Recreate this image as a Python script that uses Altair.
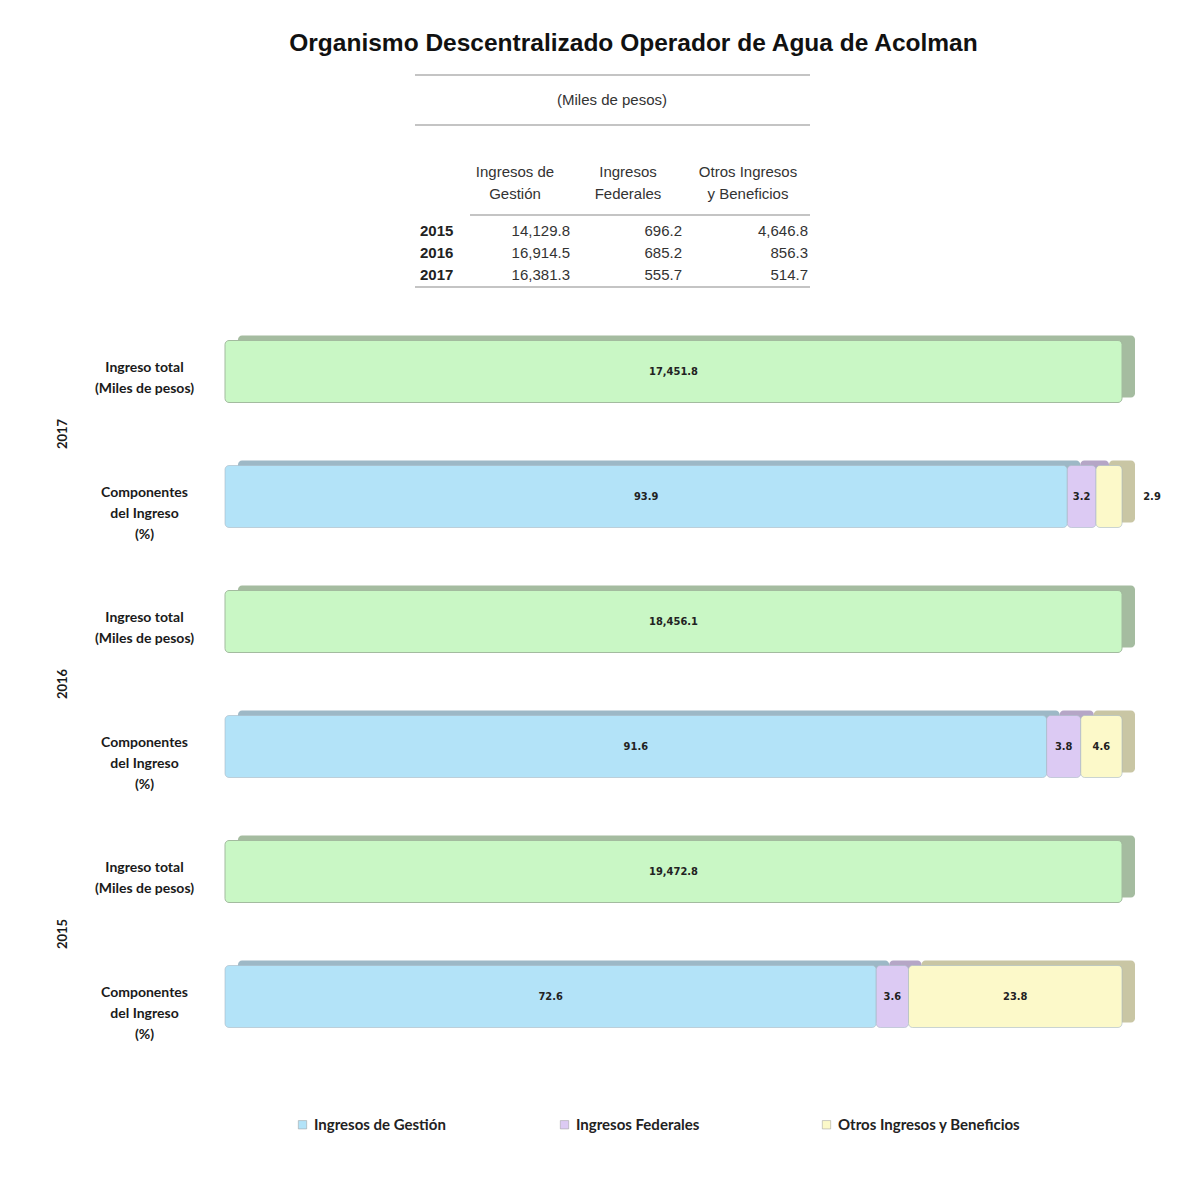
import altair as alt
import pandas as pd

# ---------------- data ----------------
years = ["2015", "2016", "2017"]
ingresos_gestion = [14129.8, 16914.5, 16381.3]
ingresos_federales = [696.2, 685.2, 555.7]
otros_ingresos = [4646.8, 856.3, 514.7]
ingreso_total = [19472.8, 18456.1, 17451.8]
pct_gestion = [72.6, 91.6, 93.9]
pct_federales = [3.6, 3.8, 3.2]
pct_otros = [23.8, 4.6, 2.9]

segments = ["Ingresos de Gestión", "Ingresos Federales", "Otros Ingresos y Beneficios"]
row_total = "Ingreso total|(Miles de pesos)"
row_comp = "Componentes|del Ingreso|(%)"
table_headers = ["Ingresos de\nGestión", "Ingresos\nFederales", "Otros Ingresos\ny Beneficios"]

# ---------------- styles ----------------
seg_colors = ["#b3e3f8", "#dccaf3", "#fcf9c9"]
seg_shadow = ["#9db8c6", "#b5a6c6", "#c9c6a4"]
total_color = "#c9f7c5"
total_shadow = "#a5bca0"
W = 897
narrow = "'DejaVu Sans Condensed', 'Liberation Sans Narrow', 'Liberation Sans', sans-serif"

# ---------------- bar data ----------------
rows = []
for i, y in enumerate(years):
    rows.append(dict(year=y, row=row_total, segment="Total", start=0.0, end=100.0,
                     pct=100.0, label=f"{ingreso_total[i]:,.1f}", shadow=total_shadow))
    acc = 0.0
    for j, (seg, p) in enumerate(zip(segments, [pct_gestion[i], pct_federales[i], pct_otros[i]])):
        rows.append(dict(year=y, row=row_comp, segment=seg, start=acc, end=acc + p,
                         pct=p, label=f"{p:.1f}", shadow=seg_shadow[j]))
        acc += p
bars = pd.DataFrame(rows)
bars["mid"] = (bars["start"] + bars["end"]) / 2

xs = alt.Scale(domain=[0, 100], nice=False, zero=False)
yenc = alt.Y("row:N", sort=[row_total, row_comp],
             scale=alt.Scale(paddingInner=0, paddingOuter=0),
             axis=alt.Axis(title=None, domain=False, ticks=False, tickSize=0,
                           labelExpr="split(datum.value, '|')", labelAlign="center",
                           labelPadding=80, labelFont="Lato", labelFontWeight="bold",
                           labelFontSize=14, labelColor="#1a1a1a", labelLineHeight=21,
                           labelBaseline="middle", labelOffset=-4))

shadow = alt.Chart().mark_bar(size=62, xOffset=13, x2Offset=13, yOffset=-5, y2Offset=-5,
                              cornerRadius=4).encode(
    x=alt.X("start:Q", scale=xs, axis=None), x2="end:Q", y=yenc,
    color=alt.Color("shadow:N", scale=None))

total_bar = alt.Chart().mark_bar(size=62, cornerRadius=4, stroke="#a3bb9f", strokeWidth=1).encode(
    x=alt.X("start:Q", scale=xs, axis=None), x2="end:Q", y=yenc,
    color=alt.value(total_color)).transform_filter(alt.datum.segment == "Total")

comp_bar = alt.Chart().mark_bar(size=62, cornerRadius=4, strokeWidth=1, stroke="#a9b9c4",
                                strokeOpacity=0.6).encode(
    x=alt.X("start:Q", scale=xs, axis=None), x2="end:Q", y=yenc,
    color=alt.Color("segment:N", scale=alt.Scale(domain=segments, range=seg_colors),
                    legend=alt.Legend(title=None, orient="none", legendX=70, legendY=1052,
                                      direction="horizontal", columns=3, gridAlign="all",
                                      columnPadding=60, symbolType="square", symbolSize=70,
                                      symbolStrokeColor="#999", symbolStrokeWidth=0.5,
                                      labelFont="Lato", labelFontWeight="bold",
                                      labelFontSize=15, labelColor="#222", labelLimit=300))
).transform_filter(alt.datum.segment != "Total")

lbl_in = alt.Chart().mark_text(font=narrow, fontWeight="bold", fontSize=11, color="#222").encode(
    x=alt.X("mid:Q", scale=xs, axis=None), y=yenc, text="label:N"
).transform_filter(alt.datum.pct >= 3)

lbl_out = alt.Chart().mark_text(font=narrow, fontWeight="bold", fontSize=11, color="#222",
                                dx=30).encode(
    x=alt.X("end:Q", scale=xs, axis=None), y=yenc, text="label:N"
).transform_filter(alt.datum.pct < 3)

bar_chart = alt.layer(shadow, total_bar, comp_bar, lbl_in, lbl_out, data=bars).properties(
    width=W, height=250
).facet(
    row=alt.Row("year:N", sort=["2017", "2016", "2015"],
                header=alt.Header(title=None, labelFont="Lato", labelFontWeight="bold",
                                  labelFontSize=13, labelColor="#1a1a1a", labelPadding=24)),
    spacing=0
)

# ---------------- table (header) ----------------
trow = []
for i, y in enumerate(years):
    for c, v in zip(["g", "f", "o"], [ingresos_gestion[i], ingresos_federales[i], otros_ingresos[i]]):
        trow.append(dict(year=y, col=c, txt=f"{v:,.1f}"))
tdf = pd.DataFrame(trow)
ty = alt.Y("year:N", sort=years, scale=alt.Scale(domain=years, range=[166, 210], padding=0), axis=None)
tfont = dict(font="Liberation Sans", fontSize=15, color="#333")

def hline(x1, x2, y):
    return alt.Chart(pd.DataFrame({"k": [0]})).mark_rule(color="#c4c4c4", strokeWidth=2).encode(
        x=alt.value(x1), x2=alt.value(x2), y=alt.value(y))

def fixed_text(txt, x, y, **kw):
    return alt.Chart(pd.DataFrame({"t": [txt]})).mark_text(baseline="middle", **kw).encode(
        x=alt.value(x), y=alt.value(y), text="t:N")

year_lbls = alt.Chart(pd.DataFrame({"year": years})).mark_text(
    align="left", baseline="middle", font="Liberation Sans", fontSize=15, fontWeight="bold",
    color="#222").encode(x=alt.value(195), y=ty, text="year:N")

val_layers = []
for c, xr in zip(["g", "f", "o"], [345, 457, 583]):
    val_layers.append(alt.Chart(tdf).mark_text(align="right", baseline="middle", **tfont).encode(
        x=alt.value(xr), y=ty, text="txt:N").transform_filter(alt.datum.col == c))

hdr_layers = [fixed_text(h, x, 107, align="center", lineBreak="\n", lineHeight=22, **tfont)
              for h, x in zip(table_headers, [290, 403, 523])]

header = alt.layer(
    hline(190, 585, 10), hline(190, 585, 60), hline(245, 585, 150), hline(190, 585, 222),
    fixed_text("(Miles de pesos)", 387, 35, align="center", **tfont),
    *hdr_layers, year_lbls, *val_layers
).properties(
    width=W, height=230,
    title=alt.Title("Organismo Descentralizado Operador de Agua de Acolman",
                    font="Liberation Sans", fontSize=24.5, fontWeight="bold", color="#111",
                    anchor="middle", dx=-40, offset=9)
)

chart = alt.vconcat(header, bar_chart, spacing=14).properties(
    padding={"left": 49, "top": 22, "right": 5, "bottom": 5}
).configure_view(stroke=None)

chart.save("out.html", embed_options={"renderer": "svg", "actions": False})
